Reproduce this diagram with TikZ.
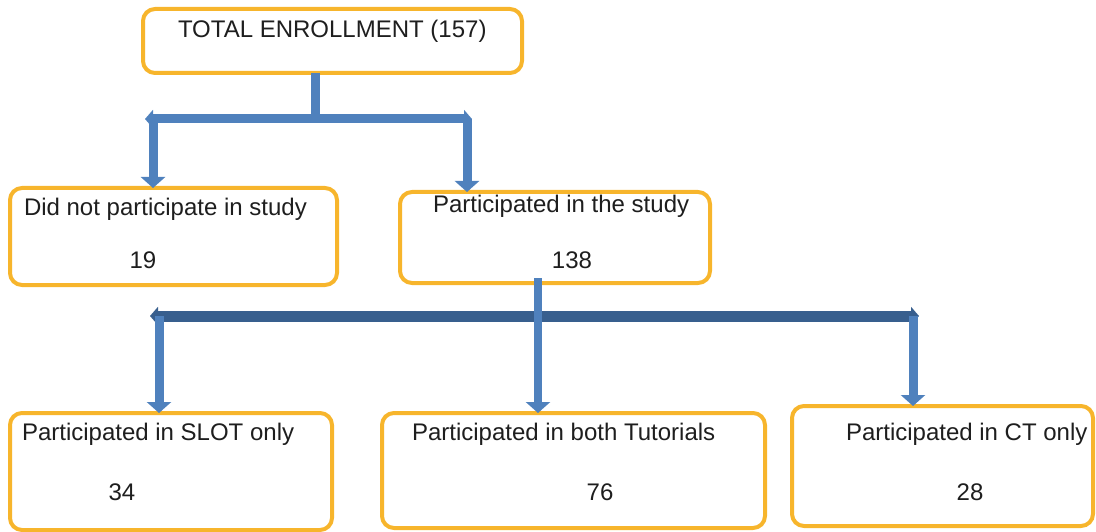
\documentclass[tikz,border=0pt]{standalone}
\usepackage{fontspec}
\setmainfont{Liberation Sans}
\usetikzlibrary{arrows.meta}
\definecolor{boxorange}{HTML}{F7B52C}
\definecolor{lineblue}{HTML}{4F81BD}
\definecolor{darkblue}{HTML}{385F8E}
\definecolor{textgray}{HTML}{1E1E1E}
\begin{document}
\begin{tikzpicture}[x=1pt,y=-1pt,
  box/.style={draw=boxorange, line width=4pt, rounded corners=12pt, inner sep=0pt, outer sep=0pt, fill=white},
  lbl/.style={inner sep=0pt, outer sep=0pt, text=textgray, font=\fontsize{24}{28}\selectfont},
  conn/.style={draw=lineblue, line width=9pt},
  darkconn/.style={draw=darkblue, line width=11pt},
  vtip/.style={-{Triangle[width=24pt,length=11pt]}},
  htips/.style={{Triangle[width=18pt,length=8pt]}-{Triangle[width=18pt,length=8pt]}}
]
\useasboundingbox (0,0) rectangle (1096,532);

% boxes
\node[box, minimum width=379pt, minimum height=64pt]  (top) at (332.5,41)  {};
\node[box, minimum width=327pt, minimum height=97pt]  (left) at (173.5,236.5) {};
\node[box, minimum width=310pt, minimum height=91pt]  (mid) at (555,237.5) {};
\node[box, minimum width=322pt, minimum height=117pt] (b1) at (171,471.5) {};
\node[box, minimum width=383pt, minimum height=115pt] (b2) at (573.5,470.5) {};
\node[box, minimum width=301pt, minimum height=120pt] (b3) at (942.5,466) {};

% texts
\node[lbl, anchor=base west] (ttop) at (178,38) {TOTAL ENROLLMENT (157)};
\node[lbl, anchor=base west] (tleft) at (24,215) {Did not participate in study};
\node[lbl, anchor=base] (nleft) at (143,269) {19};
\node[lbl, anchor=base west] (tmid) at (433,213) {Participated in the study};
\node[lbl, anchor=base] (nmid) at (572,269) {138};
\node[lbl, anchor=base west] (tb1) at (22,440) {Participated in SLOT only};
\node[lbl, anchor=base] (nb1) at (122,500) {34};
\node[lbl, anchor=base west] (tb2) at (412,440) {Participated in both Tutorials};
\node[lbl, anchor=base] (nb2) at (600,500) {76};
\node[lbl, anchor=base west] (tb3) at (846,440) {Participated in CT only};
\node[lbl, anchor=base] (nb3) at (970,500) {28};

% first level connectors
\coordinate (j1) at (315,119);
\coordinate (j1l) at (153,119);
\coordinate (j1r) at (467,119);
\coordinate (h1a) at (145,119);
\coordinate (h1b) at (472,119);
\draw[conn] (top.south -| j1) -- (j1);
\draw[conn, htips] (h1a) -- (h1b);
\draw[conn, vtip] (j1l) -- (left.north -| j1l);
\draw[conn, vtip] (j1r) -- (mid.north -| j1r);

% second level connectors
\coordinate (j2) at (538,316);
\coordinate (j2l) at (159,316);
\coordinate (j2r) at (913,316);
\coordinate (h2a) at (150,316);
\coordinate (h2b) at (919,316);
\draw[darkconn, htips] (h2a) -- (h2b);
\draw[conn, line width=8pt, vtip] ([yshift=5pt]mid.south -| j2) -- (b2.north -| j2);
\draw[conn, vtip] (j2l) -- (b1.north -| j2l);
\draw[conn, vtip] (j2r) -- (b3.north -| j2r);
\end{tikzpicture}
\end{document}
